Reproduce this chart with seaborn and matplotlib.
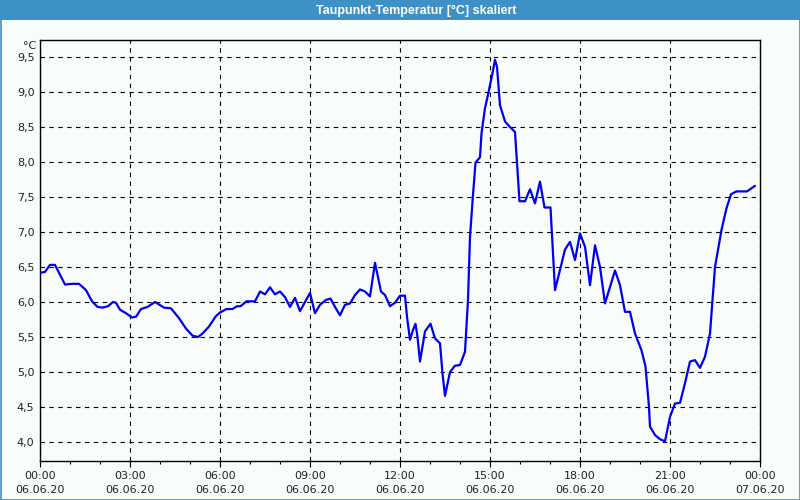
import matplotlib
matplotlib.use("Agg")
import matplotlib.pyplot as plt
import matplotlib.dates as mdates
from matplotlib.patches import Rectangle
from matplotlib.ticker import FuncFormatter
import seaborn as sns
import pandas as pd

DAY = "2020-06-06"
times = [
    "00:02", "00:10", "00:20", "00:30", "00:50", "01:04", "01:18", "01:32", "01:44", "01:55",
    "02:05", "02:16", "02:26", "02:32", "02:40", "02:52", "03:04", "03:12", "03:22", "03:35",
    "03:50", "04:08", "04:22", "04:38", "04:52", "05:05", "05:16", "05:25", "05:38", "05:52",
    "06:00", "06:13", "06:25", "06:34", "06:41", "06:53", "07:10", "07:20", "07:30", "07:40",
    "07:50", "08:00", "08:10", "08:20", "08:30", "08:40", "09:00", "09:10", "09:20", "09:32",
    "09:41", "09:50", "10:00", "10:10", "10:20", "10:30", "10:40", "10:50", "11:00", "11:10",
    "11:22", "11:30", "11:40", "11:50", "12:00", "12:10", "12:14", "12:20", "12:26", "12:31",
    "12:35", "12:40", "12:50", "13:01", "13:10", "13:20", "13:25", "13:30", "13:40", "13:50",
    "14:00", "14:10", "14:16", "14:20", "14:26", "14:31", "14:40", "14:43", "14:50", "14:56",
    "15:05", "15:10", "15:14", "15:20", "15:30", "15:40", "15:50", "15:59", "16:10", "16:20",
    "16:30", "16:40", "16:49", "17:01", "17:10", "17:20", "17:30", "17:40", "17:50", "18:00",
    "18:10", "18:20", "18:30", "18:40", "18:50", "19:10", "19:20", "19:30", "19:40", "19:50",
    "20:03", "20:11", "20:18", "20:20", "20:30", "20:40", "20:50", "21:00", "21:10", "21:20",
    "21:30", "21:40", "21:50", "22:00", "22:10", "22:20", "22:30", "22:43", "22:53", "23:02",
    "23:13", "23:34", "23:50",
]
dewpoint = [
    6.42, 6.43, 6.53, 6.53, 6.25, 6.26, 6.26, 6.17, 6.01, 5.93,
    5.92, 5.94, 6.00, 5.99, 5.89, 5.84, 5.78, 5.79, 5.90, 5.93,
    6.00, 5.92, 5.91, 5.77, 5.62, 5.52, 5.50, 5.55, 5.65, 5.80,
    5.85, 5.90, 5.90, 5.94, 5.94, 6.01, 6.01, 6.15, 6.11, 6.21,
    6.11, 6.15, 6.07, 5.93, 6.06, 5.87, 6.13, 5.84, 5.96, 6.03,
    6.05, 5.93, 5.81, 5.96, 5.98, 6.10, 6.18, 6.15, 6.08, 6.56,
    6.15, 6.10, 5.94, 5.99, 6.09, 6.09, 5.79, 5.46, 5.60, 5.69,
    5.50, 5.15, 5.58, 5.69, 5.48, 5.41, 4.98, 4.66, 5.00, 5.09,
    5.10, 5.29, 6.03, 6.93, 7.53, 7.99, 8.07, 8.41, 8.77, 8.96,
    9.27, 9.46, 9.36, 8.81, 8.58, 8.50, 8.43, 7.44, 7.44, 7.61,
    7.41, 7.72, 7.35, 7.35, 6.17, 6.46, 6.75, 6.86, 6.60, 6.98,
    6.79, 6.24, 6.81, 6.50, 5.98, 6.45, 6.24, 5.86, 5.86, 5.55,
    5.31, 5.08, 4.50, 4.22, 4.10, 4.04, 4.01, 4.36, 4.55, 4.56,
    4.84, 5.15, 5.17, 5.06, 5.22, 5.55, 6.50, 7.03, 7.34, 7.54,
    7.58, 7.58, 7.66,
]
y_ticks = [4.0, 4.5, 5.0, 5.5, 6.0, 6.5, 7.0, 7.5, 8.0, 8.5, 9.0, 9.5]
title = "Taupunkt-Temperatur [°C] skaliert"
unit = "°C"

df = pd.DataFrame({
    "time": pd.to_datetime([f"{DAY} {t}" for t in times]),
    "value": dewpoint,
})

sns.set_style("white")
plt.rcParams["font.family"] = ["DejaVu Sans"]

BG = "#f8fcfa"
BLUE = "#3d91c5"

fig = plt.figure(figsize=(8, 5), dpi=100, facecolor=BG)
ax = fig.add_axes([40 / 800, 1 - 461 / 500, 720 / 800, 421 / 500])
ax.set_facecolor(BG)

sns.lineplot(data=df, x="time", y="value", ax=ax, color="#0000ee", linewidth=1.6, zorder=3)

x0 = pd.Timestamp(f"{DAY} 00:00")
x1 = x0 + pd.Timedelta(days=1)
ax.set_xlim(x0, x1)
ax.set_ylim(3.729, 9.743)

ax.set_yticks(y_ticks)
ax.yaxis.set_major_formatter(FuncFormatter(lambda v, p: f"{v:.1f}".replace(".", ",")))
ax.xaxis.set_major_locator(mdates.HourLocator(byhour=range(0, 24, 3)))
ax.xaxis.set_minor_locator(mdates.HourLocator())
ax.xaxis.set_major_formatter(mdates.DateFormatter("%H:%M\n%d.%m.%y"))

ax.grid(True, which="major", color="black", linestyle=(0, (4, 4)), linewidth=0.8, zorder=1)
ax.set_xlabel("")
ax.set_ylabel("")

for s in ax.spines.values():
    s.set_color("black")
    s.set_linewidth(1.0)

ax.tick_params(axis="y", length=0, pad=4, labelsize=8, labelcolor="#222222")
ax.tick_params(axis="x", which="major", length=4, width=0.8, color="black", pad=3,
               labelsize=8, labelcolor="#222222", bottom=True)
ax.tick_params(axis="x", which="minor", length=2.5, width=0.8, color="black", bottom=True)
for lab in ax.get_xticklabels():
    lab.set_linespacing(1.55)

fig.text(36 / 800, 1 - 46 / 500, unit, ha="right", va="center", fontsize=8, color="#222222")

# title bar
fig.patches.append(Rectangle((0, 1 - 20 / 500), 1, 20 / 500, transform=fig.transFigure,
                             facecolor=BLUE, edgecolor="none", zorder=0))
fig.text(0.52, 1 - 10.5 / 500, title, ha="center", va="center", color="white",
         fontsize=9, fontweight="bold", family=["Liberation Sans", "DejaVu Sans"])
# outer frame
fig.patches.append(Rectangle((0.5 / 800, 0.5 / 500), 799 / 800, 499 / 500, transform=fig.transFigure,
                             facecolor="none", edgecolor=BLUE, linewidth=1.2, zorder=5))

fig.savefig("out.png", dpi=100, facecolor=BG)
